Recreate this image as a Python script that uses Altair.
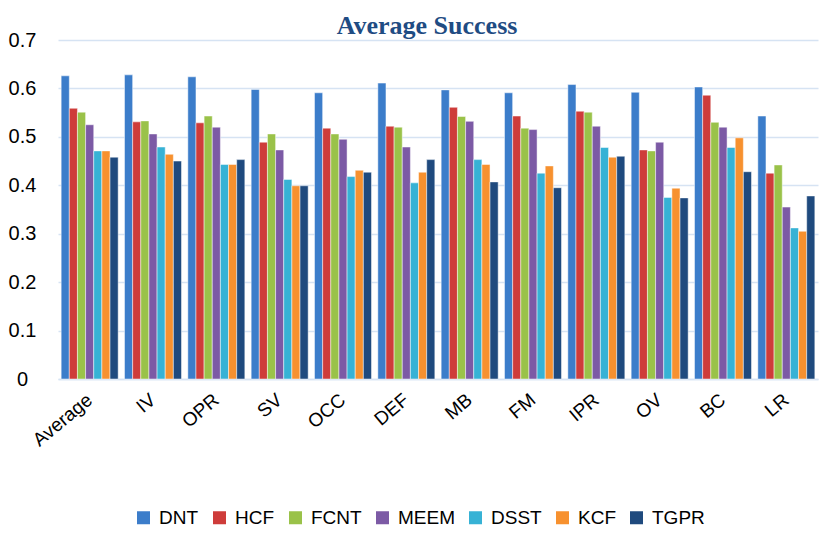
import altair as alt
import pandas as pd

categories = ["Average", "IV", "OPR", "SV", "OCC", "DEF", "MB", "FM", "IPR", "OV", "BC", "LR"]
trackers = ["DNT", "HCF", "FCNT", "MEEM", "DSST", "KCF", "TGPR"]

DNT  = [0.626, 0.628, 0.624, 0.598, 0.591, 0.611, 0.597, 0.591, 0.608, 0.592, 0.603, 0.543]
HCF  = [0.559, 0.531, 0.529, 0.489, 0.518, 0.522, 0.561, 0.543, 0.553, 0.473, 0.586, 0.425]
FCNT = [0.551, 0.533, 0.543, 0.506, 0.506, 0.520, 0.542, 0.518, 0.551, 0.471, 0.530, 0.442]
MEEM = [0.525, 0.506, 0.520, 0.473, 0.495, 0.479, 0.532, 0.515, 0.522, 0.489, 0.520, 0.355]
DSST = [0.471, 0.479, 0.443, 0.412, 0.418, 0.405, 0.453, 0.425, 0.478, 0.375, 0.478, 0.312]
KCF  = [0.471, 0.464, 0.443, 0.399, 0.431, 0.427, 0.443, 0.440, 0.458, 0.394, 0.498, 0.305]
TGPR = [0.458, 0.450, 0.453, 0.399, 0.427, 0.453, 0.407, 0.395, 0.460, 0.374, 0.428, 0.378]

colors = ["#3C7DCA", "#CE3C3A", "#9AC249", "#7C5AA5", "#37B2D5", "#F7912F", "#1F4A7E"]

series = {"DNT": DNT, "HCF": HCF, "FCNT": FCNT, "MEEM": MEEM, "DSST": DSST, "KCF": KCF, "TGPR": TGPR}
rows = []
for t in trackers:
    for c, v in zip(categories, series[t]):
        rows.append({"category": c, "tracker": t, "value": v})
df = pd.DataFrame(rows)

FONT = "Liberation Sans"
GRID = "#D6E3F3"

chart = alt.Chart(df).mark_bar(stroke="white", strokeWidth=0.6, strokeOpacity=0.8).encode(
    x=alt.X("category:N", sort=categories, title=None,
            scale=alt.Scale(paddingInner=0.1, paddingOuter=0.05),
            axis=alt.Axis(labelAngle=-40, labelAlign="right", labelBaseline="middle",
                          labelPadding=18, ticks=False, tickSize=0,
                          domainColor=GRID, domainWidth=1.5,
                          labelFont=FONT, labelFontSize=19, labelColor="#000000")),
    xOffset=alt.XOffset("tracker:N", sort=trackers, scale=alt.Scale(paddingInner=0, paddingOuter=0)),
    y=alt.Y("value:Q", title=None,
            scale=alt.Scale(domain=[0, 0.7], nice=False, zero=True),
            axis=alt.Axis(values=[0, 0.1, 0.2, 0.3, 0.4, 0.5, 0.6, 0.7],
                          labelExpr="datum.value == 0 ? '0' : format(datum.value, '.1f')",
                          domain=False, ticks=False, tickSize=0,
                          labelAlign="center", labelPadding=36,
                          gridColor=GRID, gridWidth=1.5,
                          labelFont=FONT, labelFontSize=20, labelColor="#000000")),
    color=alt.Color("tracker:N", sort=trackers,
                    scale=alt.Scale(domain=trackers, range=colors),
                    legend=alt.Legend(orient="none", legendX=76, legendY=468,
                                      direction="horizontal", title=None,
                                      symbolType="square", symbolSize=169,
                                      symbolStrokeWidth=0, labelOffset=6,
                                      columnPadding=11, padding=0,
                                      labelFont=FONT, labelFontSize=19,
                                      labelColor="#000000")),
).properties(
    width=760,
    height=339,
    title=alt.TitleParams("Average Success", font="Liberation Serif", fontSize=26,
                          fontWeight="bold", color="#1F4C83", anchor="middle",
                          offset=-9, dx=-11),
    autosize=alt.AutoSizeParams(type="none"),
    padding={"left": 50, "top": 32, "right": 5, "bottom": 150},
).configure_view(stroke=None)

chart.save("out.html", embed_options={"renderer": "svg", "actions": False})
